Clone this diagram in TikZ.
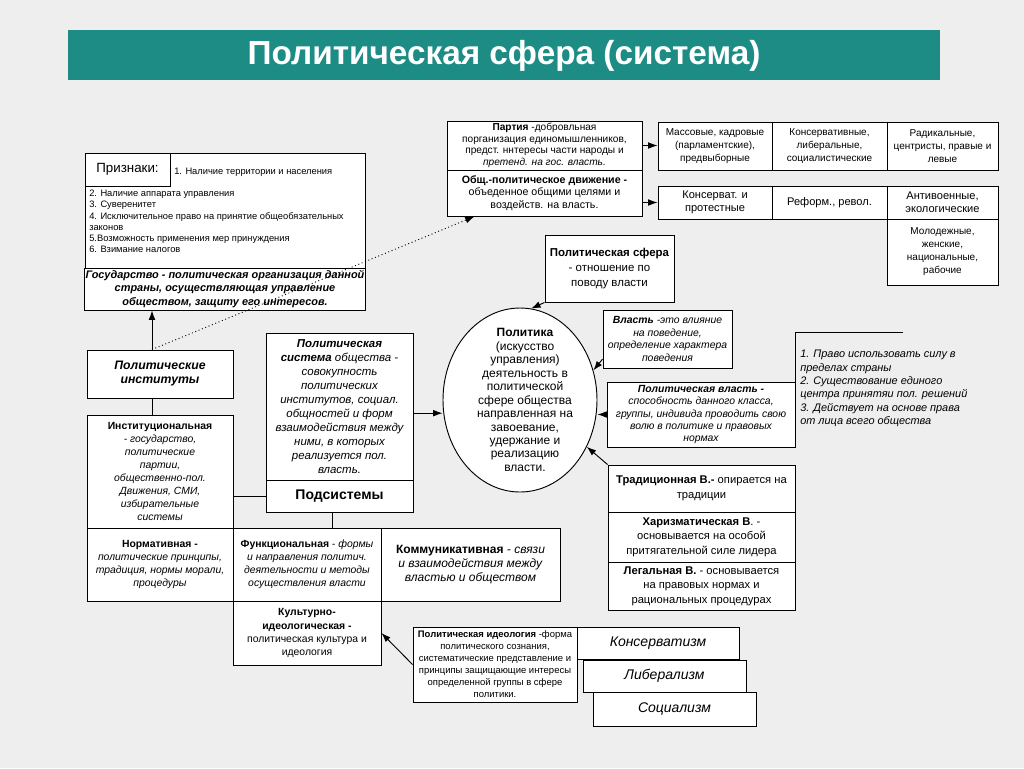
\documentclass[tikz,border=0pt]{standalone}
\usepackage{fontspec}
\setmainfont{Liberation Sans}
\usepackage{tikz}
\usetikzlibrary{shapes}
\usetikzlibrary{arrows.meta}
\definecolor{headbar}{RGB}{28,140,133}
\definecolor{bgray}{RGB}{238,238,238}
\tikzset{pbox/.style={draw,fill=white,line width=0.7pt,inner sep=0.5pt,align=center},
  arr/.style={-{Latex[length=7pt,width=5pt]},line width=0.7pt},
  link/.style={line width=0.7pt}}
\newcommand{\fs}[2]{\fontsize{#1}{#2}\selectfont}
\newcommand{\mkbox}[7][]{\node[pbox,#1,minimum width={(#5-#3)*0.75pt},minimum height={(#6-#4)*0.75pt}] (#2) at ({(#3+#5)/2},{(#4+#6)/2}) {#7};}

\begin{document}
\begin{tikzpicture}[x=0.75pt,y=-0.75pt]
    \useasboundingbox (0,0) rectangle (1024,768);
    \fill[bgray] (0,0) rectangle (1024,768);
    %title
    \fill[headbar] (68,30) rectangle (940,80);
    \node[font=\fs{25}{30}\bfseries,text=white] (title) at (504,56) {Политическая сфера (система)};
    %state
    \mkbox{signs}{85}{153}{365}{268}{}
    \mkbox[font=\fs{10}{12}]{signlabel}{85}{153}{170}{186}{Признаки:}
    \node[anchor=west,font=\fs{7}{8.4},inner sep=0pt] (firstsign) at (174,172) {1. Наличие территории и населения};
    \node[anchor=north west,align=left,font=\fs{7}{8.4},inner sep=0pt] (signlist) at (89,190)
      {2. Наличие аппарата управления\\ 3. Суверенитет\\ 4. Исключительное право на принятие общеобязательных\\ законов\\ 5.Возможность применения мер принуждения\\ 6. Взимание налогов};
    \mkbox[font=\fs{8.2}{9.8}\bfseries\itshape]{state}{85}{268}{365}{310}{Государство - политическая организация данной\\ страны, осуществляющая управление\\ обществом, защиту его интересов.}
    %parties
    \mkbox[font=\fs{7.6}{8.6}]{party}{447}{121}{642}{170}{\textbf{Партия} -добровльная\\ порганизация единомышленников,\\ предст. ннтересы части народы и\\ \textit{претенд. на гос. власть.}}
    \mkbox[font=\fs{8}{9.4}]{movement}{447}{170}{642}{216}{\textbf{Общ.-политическое движение -}\\ объеденное общими целями и\\ воздейств. на власть.}
    \mkbox[font=\fs{7.5}{9.5}]{mass}{658}{122}{772}{170}{Массовые, кадровые\\ (парламентские),\\ предвыборные}
    \mkbox[font=\fs{7.5}{9.5}]{conslib}{772}{122}{887}{170}{Консервативные,\\ либеральные,\\ социалистические}
    \mkbox[font=\fs{7.5}{9.5}]{radical}{887}{122}{998}{170}{Радикальные,\\ центристы, правые и\\ левые}
    \mkbox[font=\fs{8.3}{10}]{protest}{658}{186}{772}{219}{Консерват. и\\ протестные}
    \mkbox[font=\fs{8.3}{10}]{reform}{772}{186}{887}{219}{Реформ., револ.}
    \mkbox[font=\fs{8.3}{10}]{antiwar}{887}{186}{998}{219}{Антивоенные,\\ экологические}
    \mkbox[font=\fs{7.5}{9.75}]{youth}{887}{219}{998}{285}{Молодежные,\\ женские,\\ национальные,\\ рабочие}
    \draw[arr] (party.east) -- (party.east -| mass.west);
    \draw[arr] (movement.east |- protest.west) -- (protest.west);
    %politics
    \mkbox[font=\fs{8.6}{11.3}]{sphere}{545}{235}{674}{302}{\textbf{Политическая сфера}\\ - отношение по\\ поводу власти}
    \mkbox[font=\fs{7.8}{9.5}\itshape]{power}{603}{310}{732}{368}{\textbf{Власть} -это влияние\\ на поведение,\\ определение характера\\ поведения}
    \node[ellipse,draw,fill=white,line width=0.7pt,minimum width=115.5pt,minimum height=138pt] (politics) at (520,400) {};
    \node[align=center,font=\fs{9}{10.1}] (politicstext) at (525,400) {\textbf{Политика}\\ (искусство\\ управления)\\ деятельность в\\ политической\\ сфере общества\\ направленная на\\ завоевание,\\ удержание и\\ реализацию\\ власти.};
    \mkbox[font=\fs{7.8}{9.2}\itshape]{polpower}{607}{382}{795}{447}{\textbf{Политическая власть -}\\ способность данного класса,\\ группы, индивида проводить свою\\ волю в политике и правовых\\ нормах}
    \draw[link] (polpower.north east) -- ++(0,-49) -- ++(108,0);
    \node[anchor=north west,align=left,font=\fs{8.2}{10}\itshape,inner sep=0pt] (rights) at (800,350)
      {1. Право использовать силу в\\ пределах страны\\ 2. Существование единого\\ центра принятяи пол. решений\\ 3. Действует на основе права\\ от лица всего общества};
    \mkbox[font=\fs{8.4}{11}]{trad}{608}{465}{795}{512}{\textbf{Традиционная В.-} опирается на\\ традиции}
    \mkbox[font=\fs{8.4}{11}]{charisma}{608}{512}{795}{562}{\textbf{Харизматическая В}. -\\ основывается на особой\\ притягательной силе лидера}
    \mkbox[font=\fs{8.4}{11}]{legal}{608}{562}{795}{610}{\textbf{Легальная В.} - основывается\\ на правовых нормах и\\ рациональных процедурах}
    \draw[arr] (sphere.south west) -- (politics.83);
    \draw[arr] ([yshift=7pt]power.south west) -- (politics.22);
    \draw[arr] (polpower.west) -- (polpower.west -| politics.east);
    \draw[arr] (trad.north west) -- (politics.-35);
    %system
    \mkbox[font=\fs{9.2}{10.5}\bfseries\itshape]{institutes}{87}{350}{233}{398}{Политические\\ институты}
    \mkbox[font=\fs{7.8}{9.7}]{institutional}{87}{415}{233}{528}{\textbf{Институциональная}\\ \textit{- государство,}\\ \textit{политические}\\ \textit{партии,}\\ \textit{общественно-пол.}\\ \textit{Движения, СМИ,}\\ \textit{избирательные}\\ \textit{системы}}
    \mkbox[font=\fs{8.6}{10.5}\itshape]{system}{266}{333}{413}{480}{\textbf{Политическая}\\ \textbf{система} общества -\\ совокупность\\ политических\\ институтов, социал.\\ общностей и форм\\ взаимодействия между\\ ними, в которых\\ реализуется пол.\\ власть.}
    \mkbox[font=\fs{10.5}{12}\bfseries]{subsystems}{266}{480}{413}{512}{Подсистемы}
    \draw[arr] ([xshift=-6pt]institutes.north) -- ([xshift=-6pt]institutes.north |- state.south);
    \draw[arr,dotted] ([xshift=-6pt]institutes.north) -- ([xshift=21pt]movement.south west);
    \draw[link] ([xshift=-6pt]institutes.south) -- ([xshift=-6pt]institutes.south |- institutional.north);
    \draw[arr] ([yshift=-5pt]system.east) -- ([yshift=-5pt]system.east -| politics.west);
    \draw[link] (subsystems.west) -- (subsystems.west -| institutional.east);
    \mkbox[font=\fs{7.8}{9.8}]{normative}{87}{528}{233}{601}{\textbf{Нормативная -}\\ \textit{политические принципы,}\\ \textit{традиция, нормы морали,}\\ \textit{процедуры}}
    \mkbox[font=\fs{7.8}{9.8}]{functional}{233}{528}{381}{601}{\textbf{Функциональная} \textit{- формы}\\ \textit{и направления политич.}\\ \textit{деятельности и методы}\\ \textit{осуществления власти}}
    \mkbox[font=\fs{9}{10.2}]{communicative}{381}{528}{560}{601}{\textbf{Коммуникативная} \textit{- связи}\\ \textit{и взаимодействия между}\\ \textit{властью и обществом}}
    \mkbox[font=\fs{7.8}{9.8}]{cultural}{233}{601}{381}{665}{\textbf{Культурно-}\\ \textbf{идеологическая -}\\ политическая культура и\\ идеология}
    \draw[link] ([xshift=-5.5pt]subsystems.south) -- ([xshift=-5.5pt]subsystems.south |- functional.north);
    %ideology
    \mkbox[font=\fs{10.5}{12}\itshape]{conservatism}{577}{627}{739}{659}{Консерватизм}
    \mkbox[font=\fs{10.5}{12}\itshape]{liberalism}{583}{660}{746}{692}{Либерализм}
    \mkbox[font=\fs{10.5}{12}\itshape]{socialism}{593}{692}{756}{726}{Социализм}
    \mkbox[font=\fs{7.1}{9}]{ideology}{413}{627}{577}{702}{\textbf{Политическая идеология} -форма\\ политического сознания,\\ систематические представление и\\ принципы защищающие интересы\\ определенной группы в сфере\\ политики.}
    \draw[arr] (ideology.west) -- (cultural.east);
\end{tikzpicture}
\end{document}
